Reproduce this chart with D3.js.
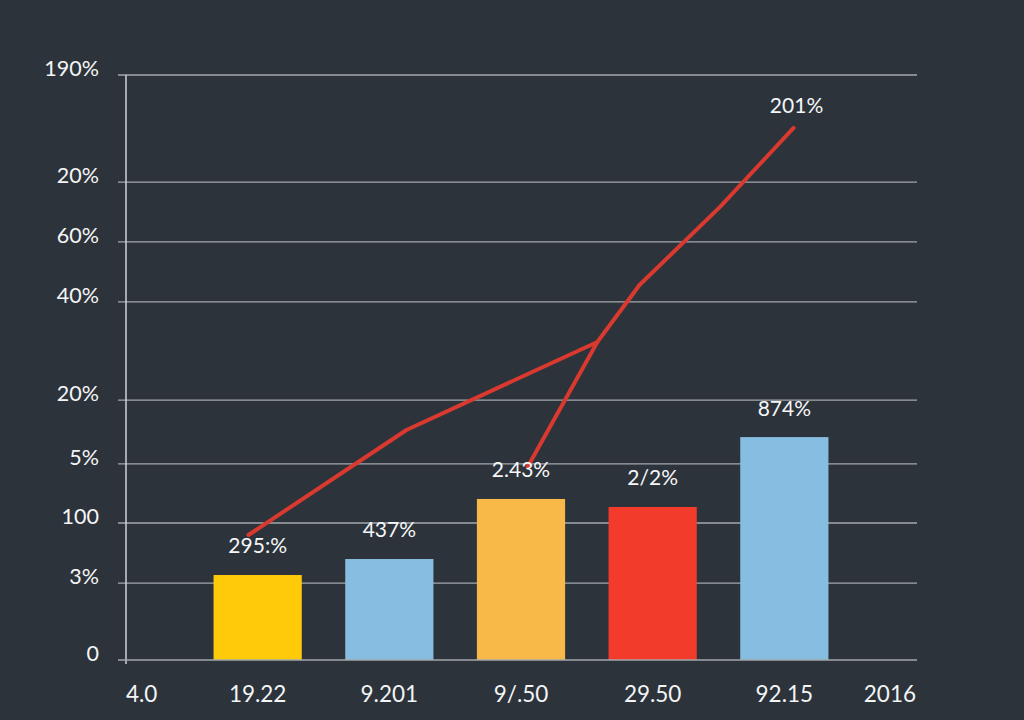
<!DOCTYPE html>
<html>
<head>
<meta charset="utf-8">
<script src="https://cdn.jsdelivr.net/npm/d3@7"></script>
<style>
  html, body { margin: 0; padding: 0; background: #2c333b; }
  svg { display: block; }
</style>
</head>
<body>
<svg id="chart" width="1024" height="720"></svg>
<script>
// ---- data ----
const categories = ["4.0", "19.22", "9.201", "9/.50", "29.50", "92.15", "2016"];
const barCategories = ["19.22", "9.201", "9/.50", "29.50", "92.15"];
const barValues = [27.6, 32.8, 52.3, 49.7, 72.4];
const barLabels = ["295:%", "437%", "2.43%", "2/2%", "874%"];
const barColors = ["#ffca0a", "#86bde0", "#f9b948", "#f23b2a", "#87bde0"];
const yTickValues = [0, 25, 44.5, 63.7, 84.4, 116.3, 135.8, 155.2, 190];
const yTickLabels = ["0", "3%", "100", "5%", "20%", "40%", "60%", "20%", "190%"];
// line (x in category-index units, y in value units)
const lineAx = [0.93, 2.13, 3.58];
const lineAy = [40.6, 74.7, 103.3];
const lineBx = [3.05, 3.58, 3.90, 4.51, 5.07];
const lineBy = [62.7, 103.3, 121.8, 147.1, 172.8];
const lineEndLabel = "201%";

(function () {
// ---- layout ----
const svg = d3.select("#chart");
const mLeft = 126, mRight = 917, mTop = 75, mBottom = 660;

svg.append("rect").attr("width", 1024).attr("height", 720).attr("fill", "#2c333b");

const x = d3.scalePoint().domain(categories).range([mLeft, mRight - 1]);
const xi = d3.scaleLinear().domain([0, categories.length - 1]).range([mLeft, mRight - 1]);
const y = d3.scaleLinear().domain([0, 190]).range([mBottom, mTop]);
const barW = x.step() * 0.67;
const font = "Lato, 'Noto Sans', sans-serif";

// gridlines
svg.append("g").selectAll("line").data(yTickValues.filter(v => v !== 0)).join("line")
  .attr("x1", mLeft - 8).attr("x2", mRight)
  .attr("y1", d => y(d)).attr("y2", d => y(d))
  .attr("stroke", "#a3a8ad").attr("stroke-width", 1.3);

// y tick labels
svg.append("g").selectAll("text").data(yTickValues).join("text")
  .attr("x", 99).attr("y", d => y(d) + 1)
  .attr("text-anchor", "end")
  .attr("fill", "#f4f5f6").attr("font-family", font).attr("font-size", 21.5)
  .text((d, i) => yTickLabels[i]);

// bars
svg.append("g").selectAll("rect").data(barCategories).join("rect")
  .attr("x", d => x(d) - barW / 2)
  .attr("width", barW)
  .attr("y", (d, i) => y(barValues[i]))
  .attr("height", (d, i) => mBottom - y(barValues[i]))
  .attr("fill", (d, i) => barColors[i]);

// axes lines
svg.append("line").attr("x1", mLeft).attr("x2", mLeft).attr("y1", mTop).attr("y2", mBottom + 4)
  .attr("stroke", "#cfd2d6").attr("stroke-width", 1.5);
svg.append("line").attr("x1", mLeft - 8).attr("x2", mRight).attr("y1", mBottom).attr("y2", mBottom)
  .attr("stroke", "#a3a8ad").attr("stroke-width", 1.6);

// red line
const lineGen = d3.line().x(d => xi(d[0])).y(d => y(d[1]));
const lineA = lineAx.map((v, i) => [v, lineAy[i]]);
const lineB = lineBx.map((v, i) => [v, lineBy[i]]);
[lineA, lineB].forEach(pts => {
  svg.append("path").datum(pts).attr("d", lineGen)
    .attr("fill", "none").attr("stroke", "#d9392f").attr("stroke-width", 4)
    .attr("stroke-linejoin", "round").attr("stroke-linecap", "round");
});

// bar labels
const labelOffsets = [22, 22, 22, 22, 21];
svg.append("g").selectAll("text").data(barCategories).join("text")
  .attr("x", d => x(d))
  .attr("y", (d, i) => y(barValues[i]) - labelOffsets[i])
  .attr("text-anchor", "middle")
  .attr("fill", "#f6f7f8").attr("font-family", font).attr("font-size", 21)
  .text((d, i) => barLabels[i]);

// line end label
const last = lineB[lineB.length - 1];
svg.append("text")
  .attr("x", xi(last[0]) + 3).attr("y", y(last[1]) - 15)
  .attr("text-anchor", "middle")
  .attr("fill", "#f6f7f8").attr("font-family", font).attr("font-size", 21)
  .text(lineEndLabel);

// x labels
svg.append("g").selectAll("text").data(categories).join("text")
  .attr("x", d => x(d))
  .attr("y", 702)
  .attr("text-anchor", (d, i) => i === 0 ? "start" : (i === categories.length - 1 ? "end" : "middle"))
  .attr("fill", "#f4f5f6").attr("font-family", font).attr("font-size", 22.5)
  .text(d => d);
})();
</script>
</body>
</html>
